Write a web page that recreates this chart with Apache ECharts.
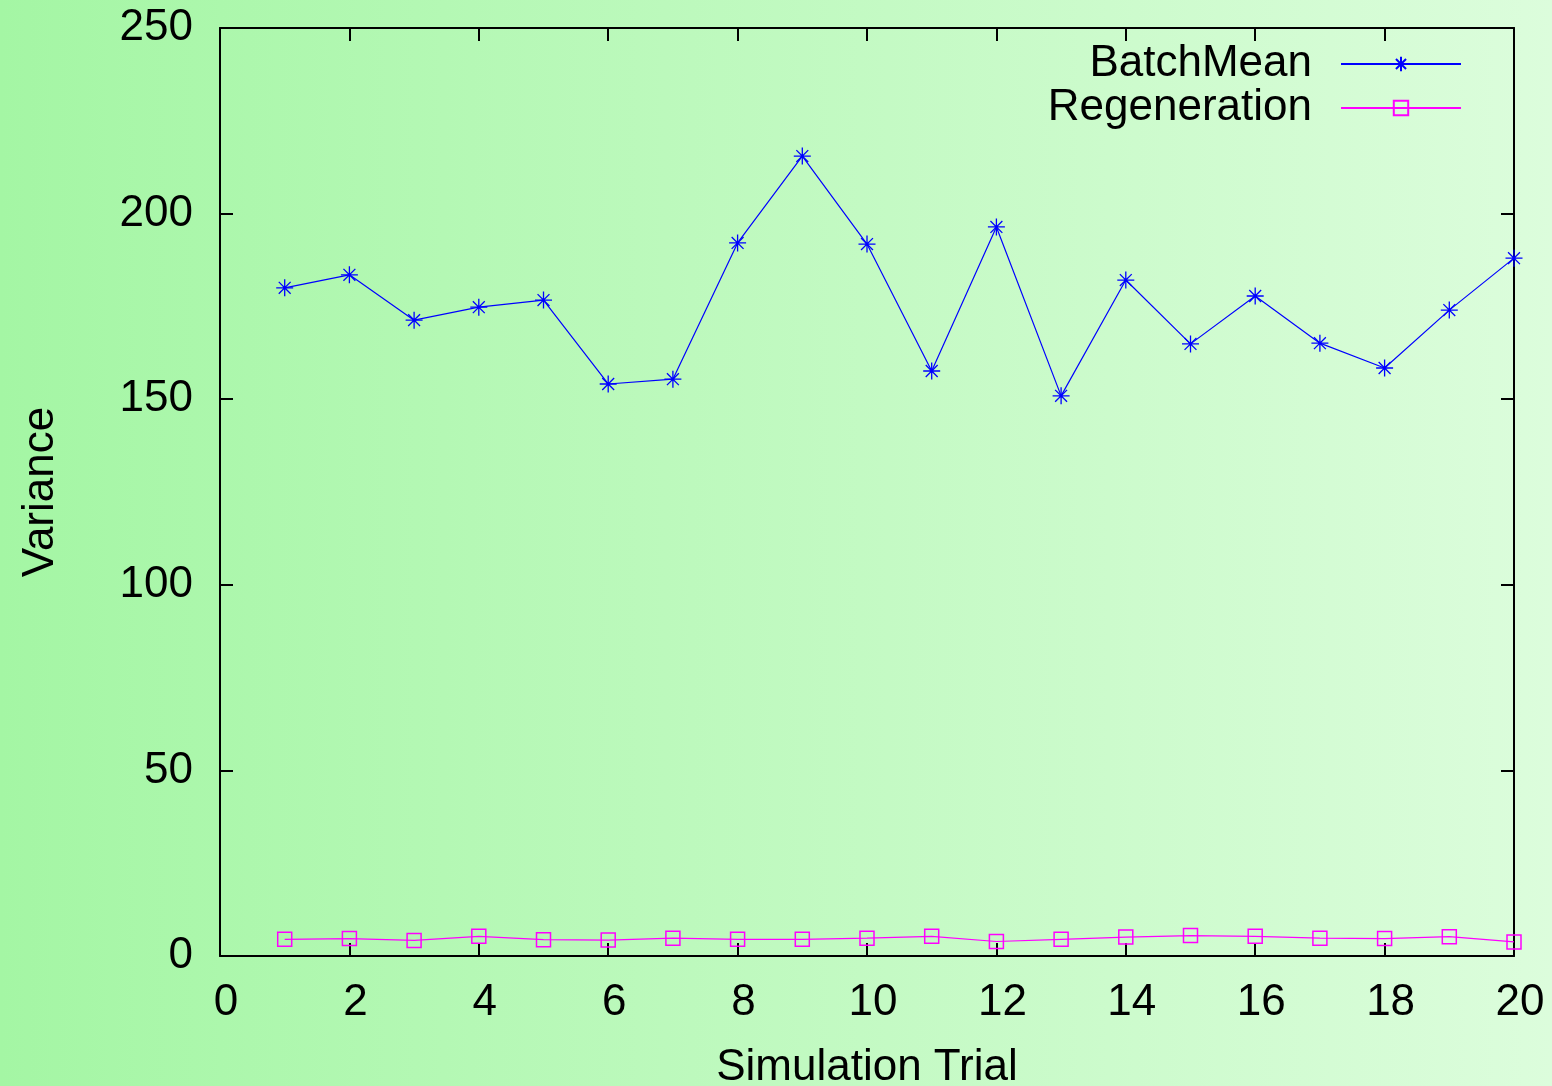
<!DOCTYPE html>
<html>
<head>
<meta charset="utf-8">
<script src="https://cdn.jsdelivr.net/npm/echarts@6/dist/echarts.min.js"></script>
<style>
  html, body { margin: 0; padding: 0; }
  #chart { width: 1552px; height: 1086px; }
</style>
</head>
<body>
<div id="chart"></div>
<script>
const trials = [1, 2, 3, 4, 5, 6, 7, 8, 9, 10, 11, 12, 13, 14, 15, 16, 17, 18, 19, 20];
const batchMean = [180.0, 183.5, 171.3, 174.8, 176.7, 154.1, 155.4, 192.1, 215.5, 191.8,
                   157.6, 196.4, 150.9, 182.1, 164.9, 177.8, 165.1, 158.4, 174.0, 188.0];
const regeneration = [4.5, 4.7, 4.2, 5.3, 4.4, 4.3, 4.8, 4.5, 4.5, 4.8,
                      5.3, 3.9, 4.5, 5.1, 5.5, 5.3, 4.8, 4.7, 5.2, 3.8];

const FONT = 'Liberation Sans';
const star = 'path://M0,-10L0,10M-10,0L10,0M-7,-7L7,7M-7,7L7,-7';

const chart = echarts.init(document.getElementById('chart'));

// gnuplot-like frame: line on all four sides, ticks pointing inwards
const frameAxis = {
  axisLine: { show: true, onZero: false, lineStyle: { color: '#000', width: 2 } },
  axisTick: { show: true, inside: true, length: 13, lineStyle: { color: '#000', width: 2 } },
  splitLine: { show: false },
};

const option = {
  animation: false,
  backgroundColor: {
    type: 'linear', x: 0, y: 0, x2: 1, y2: 0,
    colorStops: [
      { offset: 0, color: '#a4f6a4' },
      { offset: 1, color: '#dcfddc' },
    ],
  },
  grid: { left: 220, right: 38, top: 28, bottom: 130, outerBoundsMode: 'none' },
  legend: {
    orient: 'vertical',
    align: 'right',
    right: 85,
    top: 37,
    itemGap: 0,
    itemWidth: 120,
    itemHeight: 18,
    textStyle: {
      fontFamily: FONT,
      fontSize: 44,
      color: '#000',
      lineHeight: 44,
      padding: [0, 24, 0, 0],
    },
    data: ['BatchMean', 'Regeneration'],
  },
  xAxis: [
    {
      type: 'value', min: 0, max: 20, interval: 2,
      name: 'Simulation Trial',
      nameLocation: 'middle',
      nameGap: 90,
      nameTextStyle: { fontFamily: FONT, fontSize: 44, color: '#000' },
      axisLabel: { fontFamily: FONT, fontSize: 44, color: '#000', margin: 25, padding: [0, 0, 0, 12] },
      ...frameAxis,
    },
    {
      type: 'value', min: 0, max: 20, interval: 2, position: 'top',
      axisLabel: { show: false },
      ...frameAxis,
    },
  ],
  yAxis: [
    {
      type: 'value', min: 0, max: 250, interval: 50,
      name: 'Variance',
      nameLocation: 'middle',
      nameGap: 157,
      nameTextStyle: { fontFamily: FONT, fontSize: 44, color: '#000' },
      axisLabel: { fontFamily: FONT, fontSize: 44, color: '#000', margin: 27 },
      ...frameAxis,
    },
    {
      type: 'value', min: 0, max: 250, interval: 50, position: 'right',
      axisLabel: { show: false },
      ...frameAxis,
    },
  ],
  series: [
    {
      name: 'BatchMean',
      type: 'line',
      symbol: star,
      symbolSize: 17,
      lineStyle: { color: '#0000ff', width: 1.2 },
      itemStyle: { color: 'rgba(0,0,0,0)', borderColor: '#0000ff', borderWidth: 1.3 },
      data: trials.map((t, i) => [t, batchMean[i]]),
    },
    {
      name: 'Regeneration',
      type: 'line',
      symbol: 'rect',
      symbolSize: 14,
      lineStyle: { color: '#ff00ff', width: 1.2 },
      itemStyle: { color: 'rgba(0,0,0,0)', borderColor: '#ff00ff', borderWidth: 1.5 },
      data: trials.map((t, i) => [t, regeneration[i]]),
    },
  ],
};

chart.setOption(option);
</script>
</body>
</html>
